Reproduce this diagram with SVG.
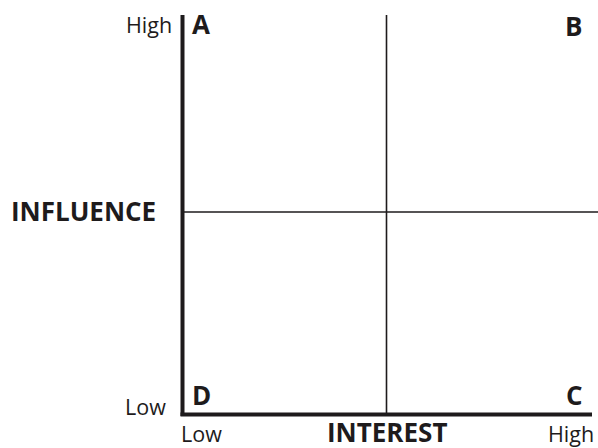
<svg xmlns="http://www.w3.org/2000/svg" width="598" height="448" viewBox="0 0 598 448">
<style>
.t{font-family:"Open Sans","Noto Sans",sans-serif;fill:#1e1b1c}
.r{font-size:21.5px}
.b{font-size:26px;font-weight:bold}
.ax{stroke:#1e1b1c;stroke-width:4;fill:none}
.gl{stroke:#1e1b1c;stroke-width:1.6;fill:none}
</style>
<rect width="598" height="448" fill="#fff"/>
<g id="connectors">
<line class="gl" x1="386.5" y1="15" x2="386.5" y2="413"/>
<line class="gl" x1="184" y1="212" x2="598" y2="212"/>
<line class="ax" x1="182.5" y1="15" x2="182.5" y2="416"/>
<line class="ax" x1="180.5" y1="414.5" x2="592" y2="414.5"/>
</g>
<g id="labels">
<text class="t r" x="126" y="33">High</text>
<text class="t r" x="125" y="415">Low</text>
<text class="t r" x="181" y="442">Low</text>
<text class="t r" x="548" y="442">High</text>
<text class="t b" x="11" y="221">INFLUENCE</text>
<text class="t b" x="327" y="442">INTEREST</text>
</g>
<g id="quadA"><text class="t b" x="192" y="34">A</text></g>
<g id="quadB"><text class="t b" x="565" y="36">B</text></g>
<g id="quadC"><text class="t b" x="566" y="405">C</text></g>
<g id="quadD"><text class="t b" x="192" y="405">D</text></g>
</svg>
